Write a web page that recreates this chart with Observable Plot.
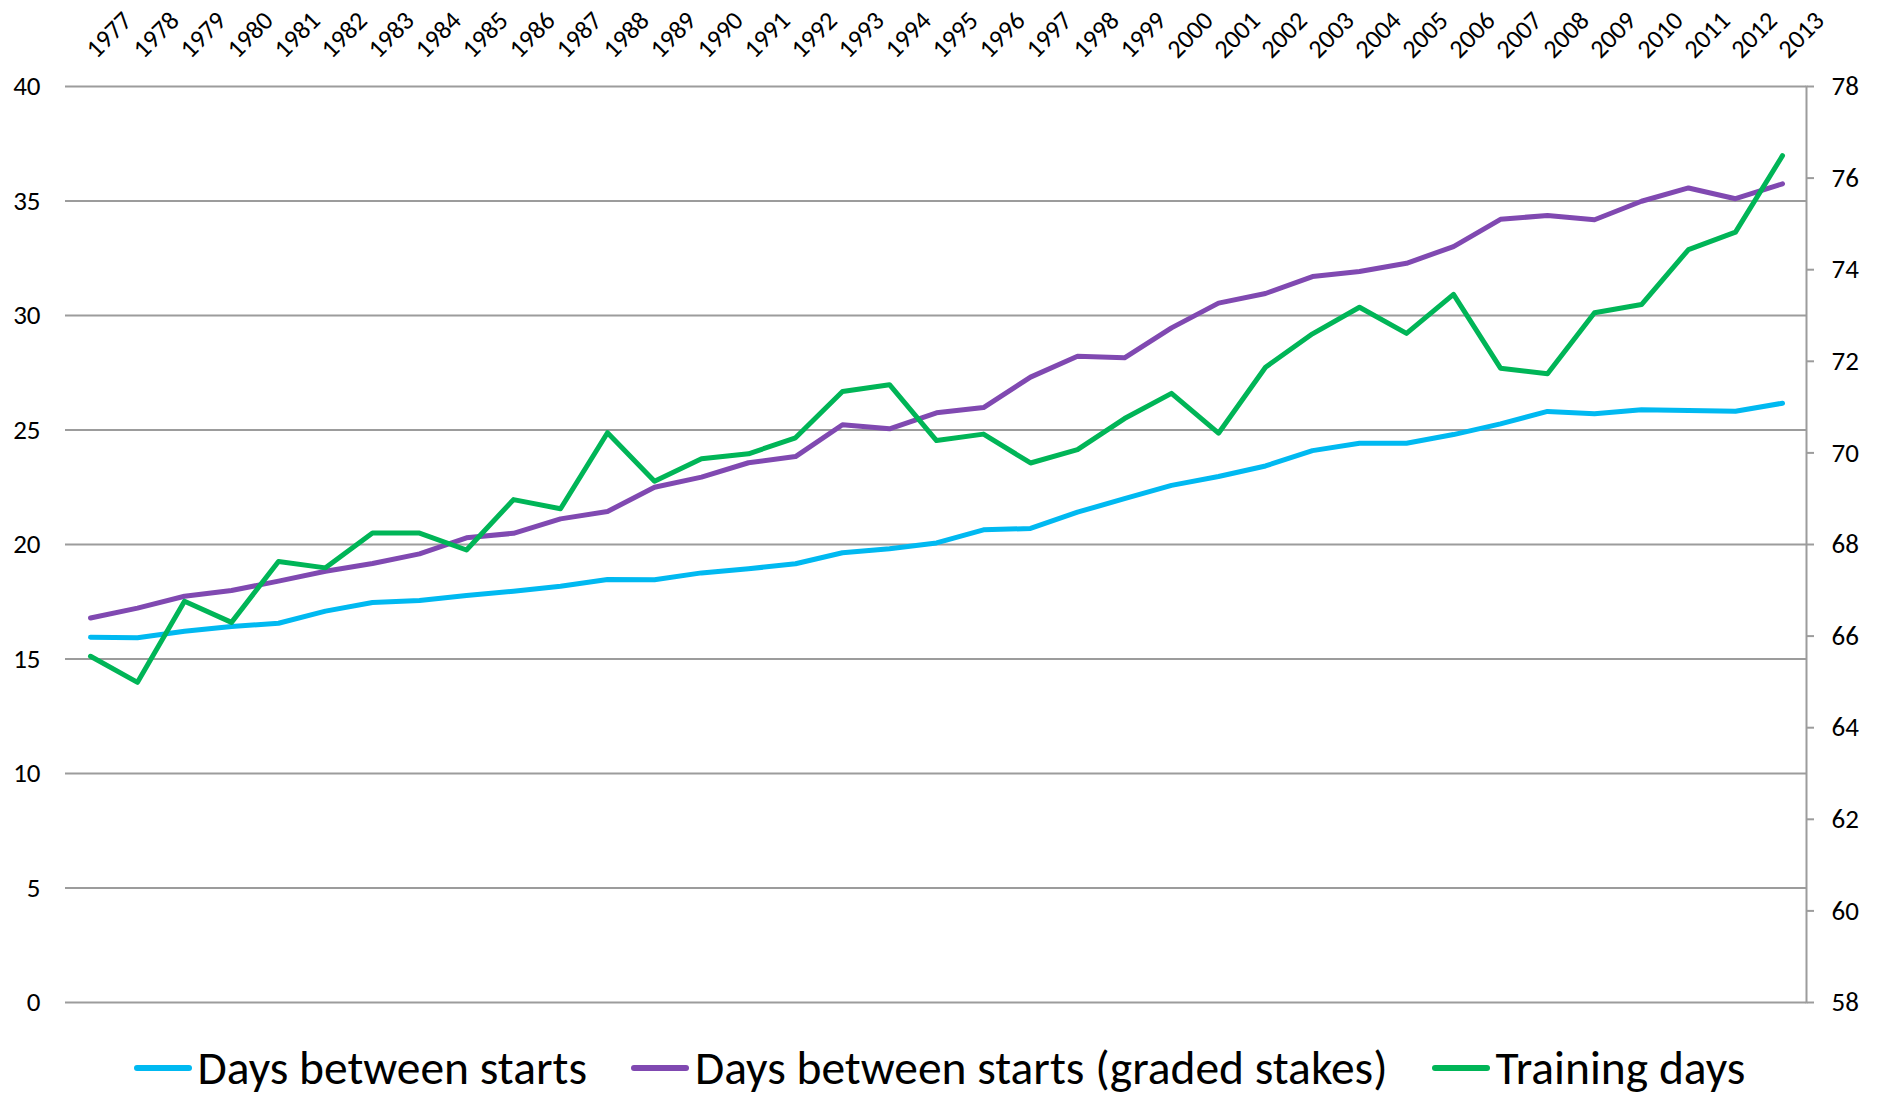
<!DOCTYPE html>
<html>
<head>
<meta charset="utf-8">
<script src="https://cdn.jsdelivr.net/npm/d3@7"></script>
<script src="https://cdn.jsdelivr.net/npm/@observablehq/plot@0.6"></script>
<style>
  html, body { margin: 0; padding: 0; background: #fff; }
  #chart svg { display: block; }
  #legend {
    display: flex; justify-content: center; align-items: center;
    height: 67px; padding-top: 9px; box-sizing: border-box;
    font-family: "Carlito", "Liberation Sans Narrow", "DejaVu Sans Condensed", sans-serif;
    font-size: 47.5px; color: #000; white-space: nowrap;
  }
  .item { display: flex; align-items: center; margin: 0 22px; }
  .sw { display: inline-block; width: 58px; height: 6px; border-radius: 3px; margin-right: 6px; }
</style>
</head>
<body>
<div id="chart"></div>
<div id="legend"></div>
<script>
const years = [1977,1978,1979,1980,1981,1982,1983,1984,1985,1986,1987,1988,1989,1990,1991,1992,1993,1994,1995,1996,1997,1998,1999,2000,2001,2002,2003,2004,2005,2006,2007,2008,2009,2010,2011,2012,2013];

// Days between starts (left axis)
const daysBetweenStarts = [15.95,15.93,16.21,16.42,16.56,17.09,17.47,17.55,17.77,17.96,18.18,18.47,18.46,18.76,18.94,19.16,19.64,19.81,20.07,20.64,20.70,21.41,22.00,22.58,22.97,23.43,24.10,24.42,24.42,24.80,25.27,25.81,25.71,25.88,25.85,25.82,26.17];

// Days between starts (graded stakes) (left axis)
const daysGradedStakes = [16.79,17.22,17.74,17.99,18.40,18.83,19.17,19.59,20.29,20.49,21.12,21.44,22.50,22.94,23.57,23.84,25.23,25.05,25.75,25.98,27.31,28.22,28.15,29.46,30.54,30.96,31.70,31.92,32.28,33.01,34.20,34.37,34.18,34.99,35.57,35.10,35.75];

// Training days (right axis)
const trainingDays = [65.56,64.99,66.76,66.30,67.63,67.49,68.25,68.25,67.88,68.98,68.78,70.44,69.38,69.87,69.98,70.33,71.34,71.49,70.27,70.41,69.78,70.07,70.75,71.30,70.43,71.87,72.60,73.18,72.61,73.46,71.85,71.73,73.06,73.24,74.44,74.82,76.49];

const leftTicks = [0,5,10,15,20,25,30,35,40];
const rightTicks = [58,60,62,64,66,68,70,72,74,76,78];

const seriesNames = ["Days between starts", "Days between starts (graded stakes)", "Training days"];
const seriesColors = ["#00B9F1", "#8049B1", "#00B557"];

// right axis (58..78) mapped onto left axis (0..40)
const rightMin = 58;
const toLeft = t => (t - rightMin) * 2;
const fromLeft = v => rightMin + v / 2;

const rows = (vals, f) => years.map((yr, i) => ({year: yr, value: f ? f(vals[i]) : vals[i]}));

const tickFont = "'Carlito', 'Liberation Sans', sans-serif";
const gridColor = "#9c9c9c";

const lineOpts = (c) => ({x: "year", y: "value", stroke: c, strokeWidth: 5, strokeLinecap: "round", strokeLinejoin: "round"});

const chart = Plot.plot({
  width: 1879,
  height: 1030,
  marginLeft: 65,
  marginRight: 73,
  marginTop: 86,
  marginBottom: 28,
  style: {fontFamily: tickFont, background: "#fff", color: "#000"},
  x: {type: "point", domain: years, padding: 0.5, axis: null},
  y: {domain: [0, 40], axis: null},
  marks: [
    Plot.gridY(leftTicks, {stroke: gridColor, strokeOpacity: 1, strokeWidth: 2}),
    Plot.frame({anchor: "right", stroke: gridColor, strokeWidth: 2}),
    Plot.axisX(years, {anchor: "top", label: null, tickSize: 0, tickPadding: 33, tickRotate: -45, textAnchor: "start", fontSize: 26, tickFormat: d => String(d)}),
    Plot.axisY(leftTicks, {anchor: "left", label: null, tickSize: 0, tickPadding: 25, fontSize: 27}),
    Plot.axisY(rightTicks.map(toLeft), {anchor: "right", label: null, tickSize: 7, tickPadding: 18, stroke: gridColor, strokeWidth: 2, fill: "#000", fontSize: 27, tickFormat: d => String(fromLeft(d))}),
    Plot.line(rows(daysBetweenStarts), lineOpts(seriesColors[0])),
    Plot.line(rows(daysGradedStakes), lineOpts(seriesColors[1])),
    Plot.line(rows(trainingDays, toLeft), lineOpts(seriesColors[2]))
  ]
});
document.getElementById("chart").appendChild(chart);

const legend = document.getElementById("legend");
seriesNames.forEach((name, i) => {
  const item = document.createElement("div");
  item.className = "item";
  const sw = document.createElement("span");
  sw.className = "sw";
  sw.style.background = seriesColors[i];
  const label = document.createElement("span");
  label.textContent = name;
  item.appendChild(sw);
  item.appendChild(label);
  legend.appendChild(item);
});
</script>
</body>
</html>
